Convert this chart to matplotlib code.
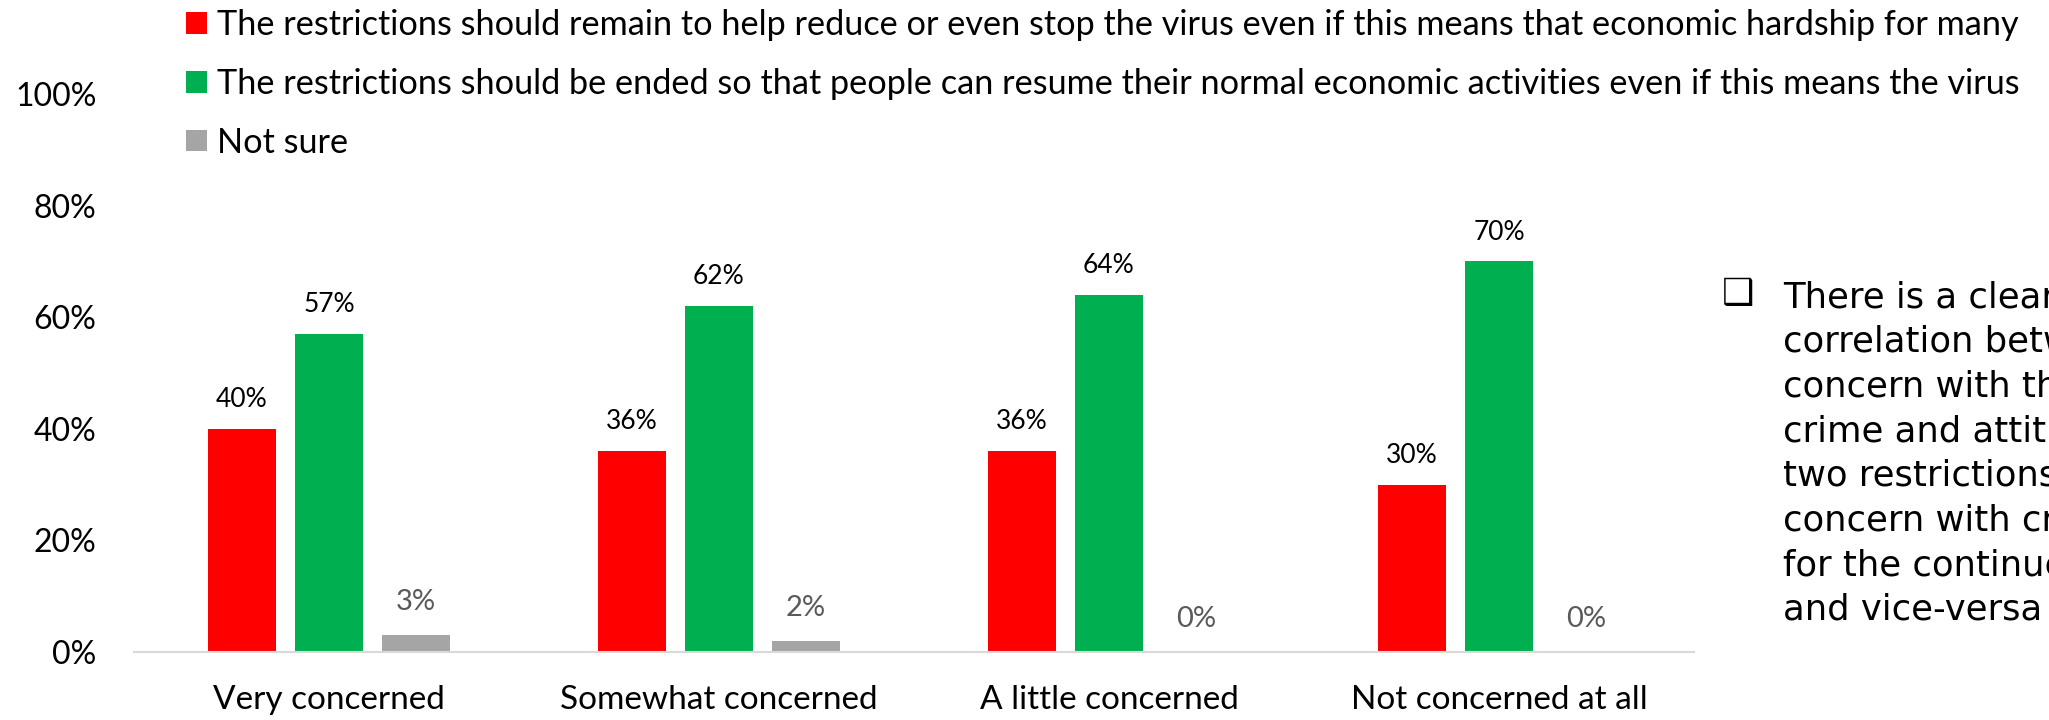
import matplotlib
matplotlib.use('Agg')
import matplotlib.pyplot as plt
import numpy as np

# survey: attitude to restrictions by level of concern with crime
categories = ['Very concerned', 'Somewhat concerned', 'A little concerned', 'Not concerned at all']
remain = [40, 36, 36, 30]
ended = [57, 62, 64, 70]
not_sure = [3, 2, 0, 0]
series_names = [
    'The restrictions should remain to help reduce or even stop the virus even if this means that economic hardship for many',
    'The restrictions should be ended so that people can resume their normal economic activities even if this means the virus',
    'Not sure',
]
y_ticks = [0, 20, 40, 60, 80, 100]
note_lines = ['There is a clear', 'correlation between', 'concern with the', 'crime and attitudes',
              'two restrictions', 'concern with crime', 'for the continued', 'and vice-versa']

colors = ['#FF0000', '#00B050', '#A5A5A5']
label_colors = ['#000000', '#000000', '#595959']
calibri = ['Lato', 'DejaVu Sans']

W, H = 2049, 720
fig = plt.figure(figsize=(W / 100, H / 100), dpi=100)
ax = fig.add_axes([134 / W, 1 - 652 / H, (1694 - 134) / W, 558 / H])

x = np.arange(len(categories))
width = 0.174
step = 0.223
bars = []
for i, vals in enumerate([remain, ended, not_sure]):
    pos = x + (i - 1) * step
    b = ax.bar(pos, vals, width, color=colors[i], label=series_names[i], zorder=2)
    bars.append(b)
    for px, v in zip(pos, vals):
        off = 24 if i == 2 else 21
        fs = 21 if i == 2 else 19
        ax.annotate(f'{v}%', (px, v), xytext=(0, off), textcoords='offset points',
                    ha='center', va='center', fontsize=fs, color=label_colors[i], family=calibri)

ax.set_xlim(-0.5, len(categories) - 0.5)
ax.set_ylim(0, 100)
ax.set_yticks(y_ticks)
ax.set_yticklabels([f'{t}%' for t in y_ticks], fontsize=23, family=calibri)
ax.set_xticks(x)
ax.set_xticklabels(categories, fontsize=24, family=calibri)
ax.tick_params(axis='both', length=0)
ax.tick_params(axis='x', pad=24)
ax.tick_params(axis='y', pad=27)
for s in ['left', 'top', 'right']:
    ax.spines[s].set_visible(False)
ax.spines['bottom'].set_color('#D9D9D9')
ax.spines['bottom'].set_linewidth(1.5)

fig.legend(handles=bars, labels=series_names, loc='upper left',
           bbox_to_anchor=(186 / W, 1 - 9 / H), frameon=False,
           prop={'family': calibri, 'size': 24.7}, handlelength=0.6, handleheight=0.6,
           handletextpad=0.3, labelspacing=0.78, borderpad=0, borderaxespad=0)

# side note, clipped by the right edge like in the slide
fig.text(1722 / W, 1 - 294 / H, '\u2751', fontsize=26, va='center', ha='left', family='DejaVu Sans')
for i, line in enumerate(note_lines):
    fig.text(1783 / W, 1 - (297 + i * 44.7) / H, line, fontsize=25.5, va='center', ha='left',
             family='DejaVu Sans')

fig.savefig('out.png', dpi=100)
